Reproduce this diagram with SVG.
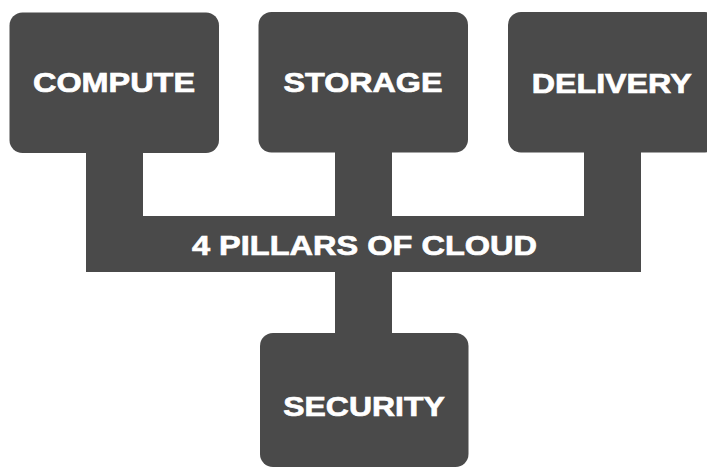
<svg xmlns="http://www.w3.org/2000/svg" width="707" height="468" viewBox="0 0 707 468">
<style>
.box{fill:#4a4a4a}
.lbl{fill:#ffffff;stroke:#ffffff;stroke-width:0.7;font-family:"Liberation Sans",Arial,sans-serif;font-weight:bold;font-size:28px;text-anchor:middle}
</style>
<rect width="707" height="468" fill="#ffffff"/>
<g id="connectors" class="box">
<rect x="86" y="150" width="57" height="70"/>
<rect x="335" y="150" width="57" height="70"/>
<rect x="584" y="150" width="57" height="70"/>
<rect x="335" y="268" width="57" height="70"/>
</g>
<g id="pillars">
<rect class="box" x="86" y="216" width="555" height="56"/>
<text class="lbl" x="364.5" y="255" textLength="345" lengthAdjust="spacingAndGlyphs">4 PILLARS OF CLOUD</text>
</g>
<g id="compute">
<rect class="box" x="9.5" y="12.5" width="209.5" height="140.5" rx="13"/>
<text class="lbl" x="114" y="92" textLength="162" lengthAdjust="spacingAndGlyphs">COMPUTE</text>
</g>
<g id="storage">
<rect class="box" x="258.5" y="12" width="209.5" height="140.5" rx="13"/>
<text class="lbl" x="363" y="92" textLength="159" lengthAdjust="spacingAndGlyphs">STORAGE</text>
</g>
<g id="delivery">
<rect class="box" x="508" y="12" width="210" height="140.5" rx="13"/>
<text class="lbl" x="611.7" y="92.5" textLength="160" lengthAdjust="spacingAndGlyphs">DELIVERY</text>
</g>
<g id="security">
<rect class="box" x="260" y="333" width="208.5" height="134" rx="13"/>
<text class="lbl" x="364" y="416" textLength="161.5" lengthAdjust="spacingAndGlyphs">SECURITY</text>
</g>
</svg>
